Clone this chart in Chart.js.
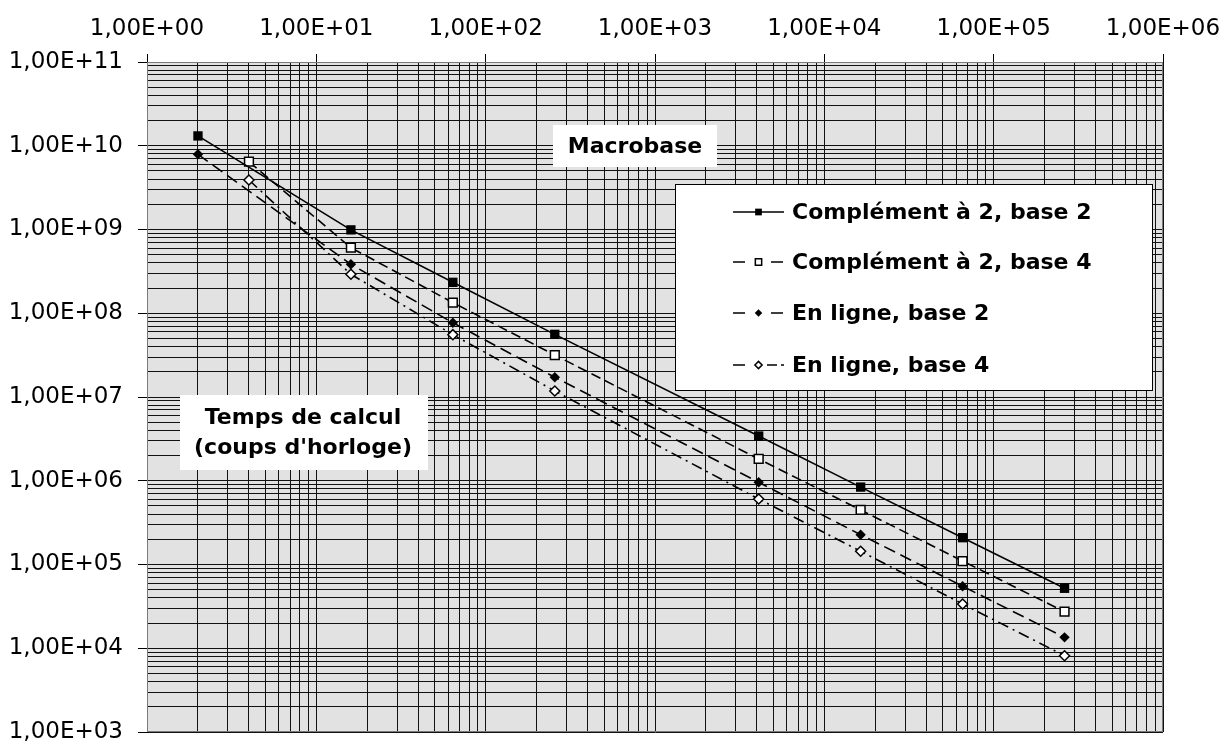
<!DOCTYPE html>
<html>
<head>
<meta charset="utf-8">
<script src="https://cdn.jsdelivr.net/npm/chart.js@4"></script>
<style>
  html, body { margin: 0; padding: 0; background: #fff; }
  #wrap { position: relative; width: 1227px; height: 744px; }
</style>
</head>
<body>
<div id="wrap"><canvas id="chart"></canvas></div>
<script>
// Macrobase - temps de calcul (log/log)
const xBase2 = [2, 16, 64, 256, 4096, 16384, 65536, 262144];
const xBase4 = [4, 16, 64, 256, 4096, 16384, 65536, 262144];

const comp2 = [1.31e10, 9.9e8, 2.34e8, 5.6e7, 3.42e6, 8.4e5, 2.09e5, 5.2e4];
const comp4 = [6.45e9, 6.07e8, 1.34e8, 3.17e7, 1.82e6, 4.48e5, 1.10e5, 2.73e4];
const lig2  = [7.9e9, 3.84e8, 7.7e7, 1.72e7, 9.6e5, 2.27e5, 5.5e4, 1.35e4];
const lig4  = [3.9e9, 2.92e8, 5.55e7, 1.18e7, 6.05e5, 1.44e5, 3.38e4, 8.15e3];

const seriesNames = ['Complément à 2, base 2', 'Complément à 2, base 4', 'En ligne, base 2', 'En ligne, base 4'];
const xDecades = [1, 10, 100, 1e3, 1e4, 1e5, 1e6];
const yDecades = [1e3, 1e4, 1e5, 1e6, 1e7, 1e8, 1e9, 1e10, 1e11];
const chartTitle = 'Macrobase';
const yAxisNote = ['Temps de calcul', "(coups d'horloge)"];

const FONT = "'DejaVu Sans', 'Liberation Sans', Arial, sans-serif";

function pts(xs, ys) { return xs.map((x, i) => ({ x: x, y: ys[i] })); }

// decades + 2..9 minor lines
function logTicks(decades) {
  const out = [];
  decades.forEach((d, i) => {
    out.push({ value: d, major: true });
    if (i < decades.length - 1) {
      for (let k = 2; k <= 9; k++) out.push({ value: k * d, major: false });
    }
  });
  return out;
}

function sciLabel(v) {
  const e = Math.round(Math.log10(v));
  return '1,00E+' + String(e).padStart(2, '0');
}
function isDecade(v) {
  const l = Math.log10(v);
  return Math.abs(l - Math.round(l)) < 1e-9;
}

const datasets = [
  { label: seriesNames[0], data: pts(xBase2, comp2), borderDash: [],
    pointStyle: 'rect', pointRadius: 6.6, pointBackgroundColor: '#000', pointBorderWidth: 0 },
  { label: seriesNames[1], data: pts(xBase4, comp4), borderDash: [10, 5],
    pointStyle: 'rect', pointRadius: 6.2, pointBackgroundColor: '#fff', pointBorderWidth: 1.5 },
  { label: seriesNames[2], data: pts(xBase2, lig2), borderDash: [12, 6],
    pointStyle: 'rectRot', pointRadius: 5.2, pointBackgroundColor: '#000', pointBorderWidth: 0 },
  { label: seriesNames[3], data: pts(xBase4, lig4), borderDash: [11, 5, 2, 5],
    pointStyle: 'rectRot', pointRadius: 5, pointBackgroundColor: '#fff', pointBorderWidth: 1.5 }
].map(ds => Object.assign({
  showLine: true,
  borderColor: '#000',
  borderWidth: 1.6,
  pointBorderColor: '#000',
  pointHoverRadius: 6,
  tension: 0
}, ds));

const legendDash = [[], [12, 26], [12, 26], [12, 22, 10, 4, 3]];

const plotBg = {
  id: 'plotBg',
  beforeDraw(chart) {
    const { ctx, chartArea: a } = chart;
    ctx.save();
    ctx.fillStyle = '#e2e2e2';
    ctx.fillRect(a.left, a.top, a.right - a.left, a.bottom - a.top);
    ctx.restore();
  },
  beforeDatasetsDraw(chart) {
    const { ctx, chartArea: a } = chart;
    ctx.save();
    // plot frame
    ctx.strokeStyle = '#7a7a7a';
    ctx.lineWidth = 1;
    ctx.strokeRect(a.left + 0.5, a.top + 0.5, a.right - a.left - 1, a.bottom - a.top - 1);
    // white note boxes
    ctx.fillStyle = '#fff';
    ctx.fillRect(553, 125, 164, 42);
    ctx.fillRect(180, 395, 248, 75);
    ctx.fillStyle = '#000';
    ctx.font = 'bold 22px ' + FONT;
    ctx.textAlign = 'center';
    ctx.textBaseline = 'middle';
    ctx.fillText(chartTitle, 635, 147);
    ctx.fillText(yAxisNote[0], 303, 418);
    ctx.fillText(yAxisNote[1], 303, 448);
    ctx.restore();
  },
  afterDraw(chart) {
    const ctx = chart.ctx;
    ctx.save();
    ctx.fillStyle = '#fff';
    ctx.strokeStyle = '#000';
    ctx.lineWidth = 1;
    ctx.fillRect(675, 184, 478, 207);
    ctx.strokeRect(675.5, 184.5, 477, 206);
    const rows = [212, 262, 313, 365];
    chart.data.datasets.forEach((ds, i) => {
      const y = rows[i];
      ctx.save();
      ctx.strokeStyle = '#000';
      ctx.lineWidth = 1.5;
      ctx.setLineDash(legendDash[i]);
      ctx.beginPath();
      ctx.moveTo(733, y);
      ctx.lineTo(784, y);
      ctx.stroke();
      ctx.restore();
      ctx.save();
      ctx.fillStyle = ds.pointBackgroundColor;
      ctx.strokeStyle = '#000';
      ctx.lineWidth = ds.pointBorderWidth || 0.01;
      Chart.helpers.drawPoint(ctx, {
        pointStyle: ds.pointStyle,
        radius: ds.pointRadius * 0.72,
        borderWidth: ds.pointBorderWidth || 0.01,
        rotation: 0
      }, 758.5, y);
      ctx.restore();
      ctx.fillStyle = '#000';
      ctx.font = 'bold 22px ' + FONT;
      ctx.textAlign = 'left';
      ctx.textBaseline = 'middle';
      ctx.fillText(ds.label, 792, y + 1);
    });
    ctx.restore();
  }
};

new Chart(document.getElementById('chart'), {
  type: 'scatter',
  data: { datasets: datasets },
  options: {
    responsive: true,
    maintainAspectRatio: false,
    animation: false,
    layout: { padding: { left: 0, right: 64, top: 0, bottom: 12 } },
    plugins: {
      legend: { display: false },
      tooltip: { enabled: true }
    },
    scales: {
      x: {
        type: 'logarithmic',
        position: 'top',
        min: 1,
        max: 1e6,
        afterBuildTicks: s => { s.ticks = logTicks(xDecades); },
        afterFit: s => { s.height = 62; s.paddingLeft = 0; s.paddingRight = 0; },
        ticks: {
          autoSkip: false,
          maxRotation: 0,
          padding: 13,
          color: '#000',
          font: { family: FONT, size: 23, lineHeight: 1 },
          callback: v => isDecade(v) ? sciLabel(v) : ''
        },
        grid: {
          color: '#111',
          lineWidth: 1,
          tickLength: 8,
          tickColor: c => (c.tick && isDecade(c.tick.value)) ? '#000' : 'rgba(0,0,0,0)'
        },
        border: { display: true, color: '#000', width: 1 }
      },
      y: {
        type: 'logarithmic',
        position: 'left',
        min: 1e3,
        max: 1e11,
        afterBuildTicks: s => { s.ticks = logTicks(yDecades); },
        afterFit: s => { s.width = 147; s.paddingTop = 0; s.paddingBottom = 0; },
        ticks: {
          autoSkip: false,
          padding: 15,
          color: '#000',
          font: { family: FONT, size: 23, lineHeight: 1 },
          callback: v => isDecade(v) ? sciLabel(v) : ''
        },
        grid: {
          color: '#111',
          lineWidth: 1,
          tickLength: 9,
          tickColor: c => (c.tick && isDecade(c.tick.value)) ? '#000' : 'rgba(0,0,0,0)'
        },
        border: { display: true, color: '#000', width: 1 }
      }
    }
  },
  plugins: [plotBg]
});
</script>
</body>
</html>
